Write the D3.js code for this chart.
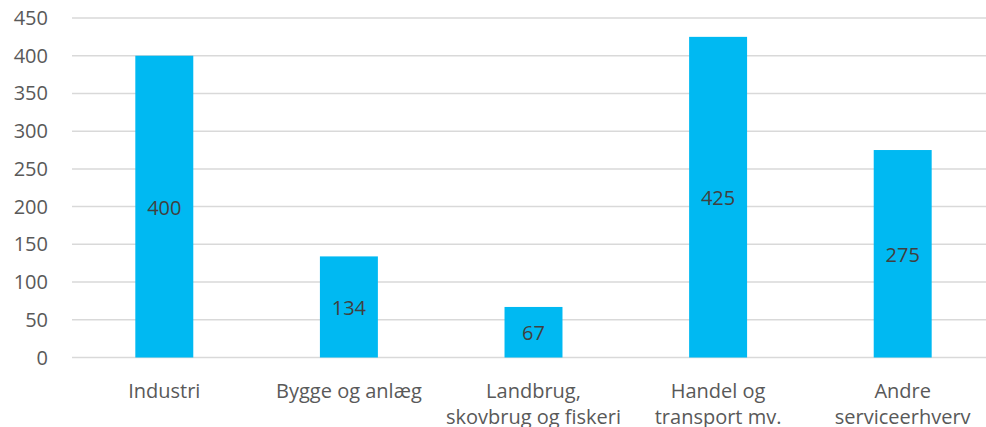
<!DOCTYPE html>
<html>
<head>
<meta charset="utf-8">
<script src="https://cdn.jsdelivr.net/npm/d3@7"></script>
<style>
  body { margin: 0; background: #fff; }
  svg text { font-family: "Open Sans", sans-serif; }
</style>
</head>
<body>
<svg id="chart" width="986" height="427"></svg>
<script>
var categories = [
  ["Industri"],
  ["Bygge og anlæg"],
  ["Landbrug,", "skovbrug og fiskeri"],
  ["Handel og", "transport mv."],
  ["Andre", "serviceerhverv"]
];
var values = [400, 134, 67, 425, 275];
var yTicks = [0, 50, 100, 150, 200, 250, 300, 350, 400, 450];

var svg = d3.select("#chart");

var x = d3.scaleBand()
  .domain(d3.range(categories.length))
  .range([72, 995])
  .padding(0);

var y = d3.scaleLinear()
  .domain([0, 450])
  .range([357.5, 18]);

var barW = x.bandwidth() * 0.314;

// gridlines
svg.append("g")
  .selectAll("line")
  .data(yTicks)
  .enter().append("line")
    .attr("x1", 72)
    .attr("x2", 986)
    .attr("y1", function(d) { return y(d); })
    .attr("y2", function(d) { return y(d); })
    .attr("stroke", "#d9d9d9")
    .attr("stroke-width", 1.5);

// y tick labels
svg.append("g")
  .selectAll("text")
  .data(yTicks)
  .enter().append("text")
    .attr("x", 48)
    .attr("y", function(d) { return y(d); })
    .attr("dy", "0.35em")
    .attr("text-anchor", "end")
    .attr("font-size", 20)
    .attr("fill", "#595959")
    .text(function(d) { return d; });

// bars
svg.append("g")
  .selectAll("rect")
  .data(values)
  .enter().append("rect")
    .attr("x", function(d, i) { return x(i) + (x.bandwidth() - barW) / 2; })
    .attr("y", function(d) { return y(d); })
    .attr("width", barW)
    .attr("height", function(d) { return y(0) - y(d); })
    .attr("fill", "#00b9f2");

// value labels
svg.append("g")
  .selectAll("text")
  .data(values)
  .enter().append("text")
    .attr("x", function(d, i) { return x(i) + x.bandwidth() / 2; })
    .attr("y", function(d) { return (y(d) + y(0)) / 2 + 1; })
    .attr("dy", "0.35em")
    .attr("text-anchor", "middle")
    .attr("font-size", 20)
    .attr("fill", "#404040")
    .text(function(d) { return d; });

// category labels
var cat = svg.append("g")
  .selectAll("text")
  .data(categories)
  .enter().append("text")
    .attr("x", function(d, i) { return x(i) + x.bandwidth() / 2; })
    .attr("y", 391)
    .attr("text-anchor", "middle")
    .attr("font-size", 20)
    .attr("fill", "#595959");

cat.selectAll("tspan")
  .data(function(d) { return d; })
  .enter().append("tspan")
    .attr("x", function() { return d3.select(this.parentNode).attr("x"); })
    .attr("dy", function(d, i) { return i === 0 ? "0.35em" : "1.3em"; })
    .text(function(d) { return d; });
</script>
</body>
</html>
